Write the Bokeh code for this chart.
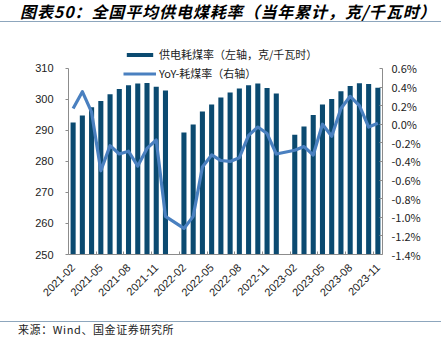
import math
from bokeh.plotting import figure
from bokeh.models import (Range1d, LinearAxis, FixedTicker, CustomJSTickFormatter,
                          Legend, LegendItem, Div, ColumnDataSource)
from bokeh.layouts import column
from bokeh.embed import file_html
from bokeh.resources import INLINE

# ---------------- data ----------------
axis_months = [f"{y}-{m:02d}" for y in (2021, 2022, 2023) for m in range(1, 13)]
axis_months = axis_months[axis_months.index("2021-02"):axis_months.index("2023-11") + 1]

data_months = ["2021-02", "2021-03", "2021-04", "2021-05", "2021-06", "2021-07", "2021-08",
               "2021-09", "2021-10", "2021-11", "2021-12",
               "2022-02", "2022-03", "2022-04", "2022-05", "2022-06", "2022-07", "2022-08",
               "2022-09", "2022-10", "2022-11", "2022-12",
               "2023-02", "2023-03", "2023-04", "2023-05", "2023-06", "2023-07", "2023-08",
               "2023-09", "2023-10", "2023-11"]
coal_rate = [292.6, 294.8, 297.5, 299.5, 301.7, 303.4, 304.6, 305.1, 305.3, 304.1, 302.9,
             289.3, 291.9, 296.1, 298.4, 300.6, 302.2, 303.5, 304.6, 305.1, 303.7, 301.9,
             288.6, 291.3, 295.0, 298.4, 300.1, 302.6, 304.3, 305.2, 305.0, 303.8]
yoy_pct = [0.17, 0.35, 0.13, -0.50, -0.23, -0.32, -0.29, -0.45, -0.26, -0.17, -0.99,
           -1.12, -0.99, -0.46, -0.33, -0.39, -0.40, -0.36, -0.12, -0.03, -0.10, -0.32,
           -0.28, -0.24, -0.33, 0.00, -0.13, 0.17, 0.30, 0.20, -0.03, 0.01]
tick_labels = ["2021-02", "2021-05", "2021-08", "2021-11", "2022-02", "2022-05",
               "2022-08", "2022-11", "2023-02", "2023-05", "2023-08", "2023-11"]
left_ticks = [250, 260, 270, 280, 290, 300, 310]
right_ticks = [-1.4, -1.2, -1.0, -0.8, -0.6, -0.4, -0.2, 0.0, 0.2, 0.4, 0.6]

title_text = "图表50：全国平均供电煤耗率（当年累计，克/千瓦时）"
source_text = "来源：Wind、国金证券研究所"
bar_label = "供电耗煤率（左轴，克/千瓦时）"
line_label = "YoY-耗煤率（右轴）"

BAR_COLOR = "#0b4a70"
LINE_COLOR = "#4a80c0"
AXIS_COLOR = "#8c8c8c"
RULE_COLOR = "#8da6bd"
CJK = "Noto Sans CJK SC"
LAT = "Liberation Sans"

# layout: the axes span 186.7 px; the frame extends 26 px above the axes' top
AXIS_PX = 186.7
HEADROOM_PX = 26.0
left_top = left_ticks[-1] + (left_ticks[-1] - left_ticks[0]) * HEADROOM_PX / AXIS_PX
right_top = right_ticks[-1] + (right_ticks[-1] - right_ticks[0]) * HEADROOM_PX / AXIS_PX

src = ColumnDataSource(dict(
    x=[axis_months.index(m) for m in data_months],
    coal=coal_rate,
    yoy=yoy_pct,
))

p = figure(width=441, height=292, output_backend="svg", toolbar_location=None,
           x_range=Range1d(-0.5, len(axis_months) - 0.5),
           y_range=Range1d(left_ticks[0], left_top),
           min_border_left=68, min_border_right=59, min_border_top=18, min_border_bottom=62)
p.extra_y_ranges = {"pct": Range1d(right_ticks[0], right_top)}
p.outline_line_color = None
p.xgrid.visible = False
p.ygrid.visible = False
p.background_fill_color = "white"
p.border_fill_color = "white"

bars = p.vbar(x="x", top="coal", bottom=left_ticks[0], width=0.55, source=src,
              fill_color=BAR_COLOR, line_color=None)
line = p.line(x="x", y="yoy", source=src, y_range_name="pct",
              line_color=LINE_COLOR, line_width=3.2, line_join="round")

# x axis: labels at category centres, small inward ticks at category boundaries
xa = p.xaxis[0]
centers = [axis_months.index(m) for m in tick_labels]
xa.ticker = FixedTicker(ticks=centers, minor_ticks=[c - 0.5 for c in centers])
xa.major_label_overrides = {axis_months.index(m): m for m in tick_labels}
xa.major_label_orientation = math.pi / 4
xa.major_tick_line_color = None
xa.minor_tick_in = 3
xa.minor_tick_out = 0
xa.minor_tick_line_color = AXIS_COLOR
xa.axis_line_color = AXIS_COLOR
xa.major_label_text_font = LAT
xa.major_label_text_font_size = "11px"
xa.major_label_text_color = "#222222"
xa.major_label_standoff = 5

# left axis
ya = p.yaxis[0]
ya.ticker = FixedTicker(ticks=left_ticks)
ya.bounds = (left_ticks[0], left_ticks[-1])
ya.minor_tick_line_color = None
ya.major_tick_in = 0
ya.major_tick_out = 3
ya.axis_line_color = AXIS_COLOR
ya.major_tick_line_color = AXIS_COLOR
ya.major_label_text_font = LAT
ya.major_label_text_font_size = "11px"
ya.major_label_text_color = "#222222"
ya.major_label_standoff = 12

# right axis
ra = LinearAxis(y_range_name="pct", ticker=FixedTicker(ticks=right_ticks),
                bounds=(right_ticks[0], right_ticks[-1]),
                formatter=CustomJSTickFormatter(code="return tick.toFixed(1) + '%';"))
ra.minor_tick_line_color = None
ra.major_tick_in = 3
ra.major_tick_out = 0
ra.axis_line_color = AXIS_COLOR
ra.major_tick_line_color = AXIS_COLOR
ra.major_label_text_font = CJK
ra.major_label_text_font_size = "11px"
ra.major_label_text_color = "#222222"
ra.major_label_standoff = 9
p.add_layout(ra, "right")

legend = Legend(items=[LegendItem(label=bar_label, renderers=[bars]),
                       LegendItem(label=line_label, renderers=[line])],
                location=(55, 173), orientation="vertical",
                padding=0, margin=0, spacing=3,
                glyph_width=33, glyph_height=5, label_height=12, label_standoff=3,
                label_text_font=CJK, label_text_font_size="11px", label_text_color="#222222",
                border_line_color=None, background_fill_alpha=0)
p.add_layout(legend, "center")

title_div = Div(text=(f'<div style="width:441px;height:22px;line-height:22px;'
                      f'border-bottom:1.5px solid {RULE_COLOR};font-family:\'{CJK}\';'
                      f'font-size:16px;font-weight:bold;font-style:italic;color:#000;'
                      f'letter-spacing:0.9px;padding-left:20px;box-sizing:border-box;'
                      f'white-space:nowrap;">{title_text}</div>'),
                width=441, height=24, margin=0)
source_div = Div(text=(f'<div style="width:441px;margin-top:5px;border-top:1.5px solid {RULE_COLOR};'
                       f'font-family:\'{CJK}\';font-size:11px;line-height:15px;color:#222;'
                       f'letter-spacing:0.6px;padding-left:18px;box-sizing:border-box;'
                       f'white-space:nowrap;">{source_text}</div>'),
                 width=441, height=24, margin=0)

layout = column(title_div, p, source_div, spacing=0)
open("out.html", "w").write(file_html(layout, INLINE))
